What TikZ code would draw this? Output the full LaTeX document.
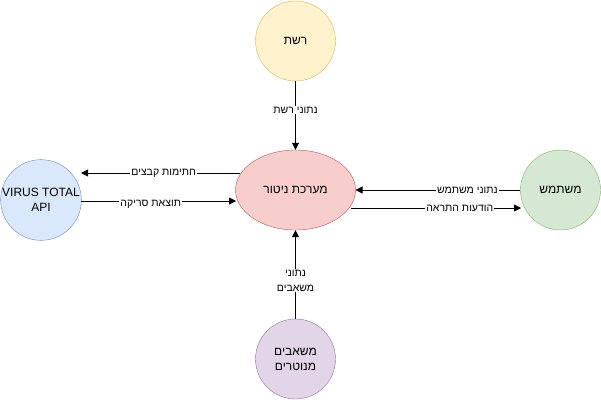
\documentclass[tikz,border=0pt]{standalone}
\usepackage{fontspec}
\setmainfont{Liberation Sans}
\newfontfamily\hebfont[Script=Hebrew]{Liberation Sans}
\TeXXeTstate=1
\usetikzlibrary{arrows.meta,shapes.geometric}
\definecolor{yfill}{HTML}{FFF2CC}\definecolor{ydraw}{HTML}{D6B656}
\definecolor{rfill}{HTML}{F8CECC}\definecolor{rdraw}{HTML}{B85450}
\definecolor{bfill}{HTML}{DAE8FC}\definecolor{bdraw}{HTML}{6C8EBF}
\definecolor{gfill}{HTML}{D5E8D4}\definecolor{gdraw}{HTML}{82B366}
\definecolor{pfill}{HTML}{E1D5E7}\definecolor{pdraw}{HTML}{9673A6}
\newcommand{\heb}[1]{\hebfont\beginR #1\endR}
\begin{document}
\begin{tikzpicture}[x=1pt,y=-1pt,
  ent/.style={circle,minimum size=80pt,inner sep=0pt,font=\fontsize{12}{15}\selectfont,align=center},
  conn/.style={draw=black,line width=0.8pt,-{Triangle[length=7pt,width=7pt]}},
  lbl/.style={fill=white,inner sep=1pt,font=\fontsize{10.5}{15}\selectfont,align=center}]
\useasboundingbox (0,0) rectangle (601,401);
\node[ent,fill=yfill,draw=ydraw] (net) at (295.5,41) {\heb{רשת}};
\node[ellipse,minimum width=120pt,minimum height=80pt,inner sep=0pt,fill=rfill,draw=rdraw,font=\fontsize{12}{14}\selectfont] (sys) at (295.5,190) {\heb{מערכת ניטור}};
\node[ent,fill=bfill,draw=bdraw] (vt) at (41,200) {VIRUS TOTAL\\API};
\node[ent,fill=gfill,draw=gdraw] (usr) at (560.5,190) {\heb{משתמש}};
\node[ent,fill=pfill,draw=pdraw] (res) at (295.5,359) {\heb{משאבים}\\\heb{מנוטרים}};
\coordinate (s1) at (240,173); \coordinate (v1) at (81,173);
\coordinate (v2) at (81,201); \coordinate (s2) at (236,201);
\coordinate (u1) at (520,190); \coordinate (s3) at (355.5,190);
\coordinate (s4) at (351,208); \coordinate (u2) at (521,208);
\draw[conn] (net.south) -- (sys.north) node[lbl,pos=0.42] {\heb{נתוני רשת}};
\draw[conn] (s1) -- (v1) node[lbl,pos=0.48] {\heb{חתימות קבצים}};
\draw[conn] (v2) -- (s2) node[lbl,pos=0.45,yshift=-3pt] {\heb{תוצאת סריקה}};
\draw[conn] (u1) -- (s3) node[lbl,pos=0.32] {\heb{נתוני משתמש}};
\draw[conn] (s4) -- (u2) node[lbl,pos=0.64] {\heb{הודעות התראה}};
\draw[conn] (res.north) -- (sys.south) node[lbl,pos=0.43] {\heb{נתוני}\\\heb{משאבים}};
\end{tikzpicture}
\end{document}
